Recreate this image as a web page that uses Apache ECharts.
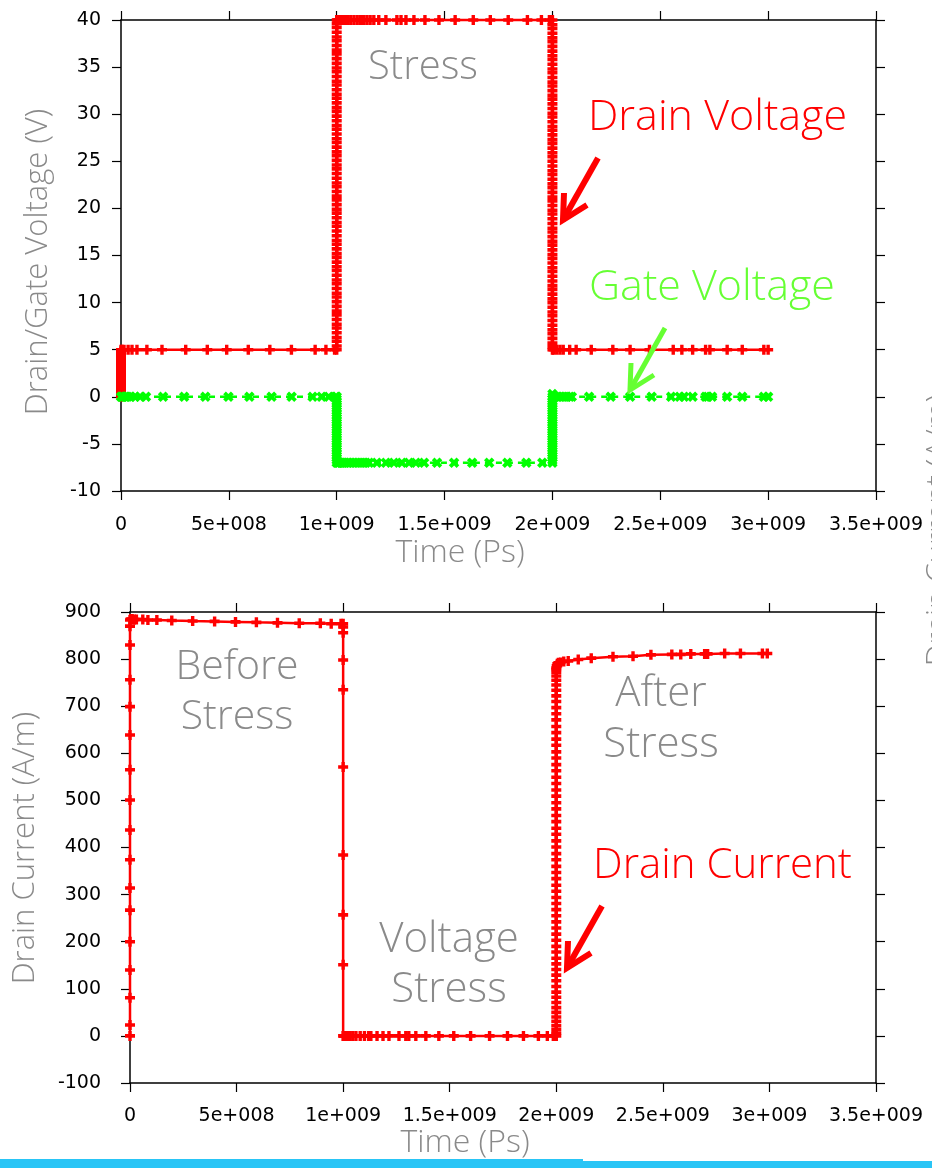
<!DOCTYPE html>
<html><head><meta charset="utf-8">
<script src="https://cdn.jsdelivr.net/npm/echarts@6/dist/echarts.min.js"></script>
<style>html,body{margin:0;padding:0;background:#fff}#c{width:932px;height:1168px}</style>
</head><body><div id="c"></div>
<script>
// ---------- DATA (time in ps, voltage in V, current in A/m) ----------
const timeTicks = [0, 5e8, 1e9, 1.5e9, 2e9, 2.5e9, 3e9, 3.5e9];

// dense steps
const drainStartRamp = [0,0.25,0.5,0.8,1.05,1.3,1.55,1.8,2.05,2.3,2.55,2.8,3.05,3.3,3.55,3.8,4.05,4.3,4.55,4.8,5];
const drainRampUp = [5.4,5.9,6.3,6.8,7.3,7.7,8.2,8.7,9.1,9.6,10.1,10.6,11,11.5,12,12.4,12.9,13.4,13.8,14.3,14.8,15.2,15.7,16.2,16.6,17.1,17.6,18.1,18.5,19,19.5,19.9,20.4,20.9,21.3,21.8,22.3,22.7,23.2,23.7,24.2,24.6,25.1,25.6,26,26.5,27,27.4,27.9,28.4,28.8,29.3,29.8,30.3,30.7,31.2,31.7,32.1,32.6,33.1,33.5,34,34.5,34.9,35.4,35.9,36.4,36.8,37.3,37.8,38.2,38.7,39.2,39.6,40];
const drainRampDown = [39.5,39.1,38.6,38.1,37.7,37.2,36.7,36.2,35.8,35.3,34.8,34.4,33.9,33.4,33,32.5,32,31.6,31.1,30.6,30.1,29.7,29.2,28.7,28.3,27.8,27.3,26.9,26.4,25.9,25.5,25,24.5,24,23.6,23.1,22.6,22.2,21.7,21.2,20.8,20.3,19.8,19.4,18.9,18.4,17.9,17.5,17,16.5,16.1,15.6,15.1,14.7,14.2,13.7,13.3,12.8,12.3,11.8,11.4,10.9,10.4,10,9.5,9,8.6,8.1,7.6,7.1,6.7,6.2,5.7,5.3,5];
const gateRampDown = [-0.25,-0.5,-0.75,-1,-1.25,-1.5,-1.75,-2,-2.25,-2.5,-2.75,-3,-3.25,-3.5,-3.75,-4,-4.25,-4.5,-4.75,-5,-5.25,-5.5,-5.75,-6,-6.25,-6.5,-6.75,-7];
const gateRampUp = [-6.75,-6.5,-6.25,-6,-5.75,-5.5,-5.25,-5,-4.75,-4.5,-4.25,-4,-3.75,-3.5,-3.25,-3,-2.75,-2.5,-2.25,-2,-1.75,-1.5,-1.25,-1,-0.75,-0.5,-0.25,0,0.3];
const currentRampUp = [6,14,22,31,40,50,60,71,82,93,105,117,129,141,153,165,178,190,203,216,229,242,255,268,281,294,307,320,334,347,360,374,387,401,414,428,441,455,468,482,495,509,522,536,549,563,576,590,603,617,630,644,657,671,684,697,710,722,734,745,755,764,772,778,781];

const drainLow1 = [[0.005e9,5],[0.014e9,5],[0.033e9,5],[0.051e9,5],[0.074e9,5],[0.12e9,5],[0.19e9,5],[0.30e9,5],[0.40e9,5],
  [0.49e9,5],[0.59e9,5],[0.69e9,5],[0.79e9,5],[0.90e9,5],[0.95e9,5],[0.99e9,5],[1e9,5]];
const drainHigh = [[1.003e9,40],[1.007e9,40],[1.012e9,40],[1.02e9,40],[1.03e9,40],[1.04e9,40],[1.05e9,40],[1.065e9,40],[1.08e9,40],
  [1.095e9,40],[1.11e9,40],[1.125e9,40],[1.14e9,40],[1.155e9,40],[1.172e9,40],[1.195e9,40],[1.228e9,40],[1.279e9,40],
  [1.298e9,40],[1.321e9,40],[1.358e9,40],[1.409e9,40],[1.474e9,40],[1.549e9,40],[1.633e9,40],[1.712e9,40],[1.795e9,40],
  [1.884e9,40],[1.949e9,40],[1.986e9,40],[2e9,40]];
const drainLow2 = [[2.005e9,5],[2.02e9,5],[2.035e9,5],[2.05e9,5],[2.08e9,5],[2.11e9,5],[2.18e9,5],[2.28e9,5],[2.36e9,5],[2.45e9,5],
  [2.56e9,5],[2.60e9,5],[2.65e9,5],[2.71e9,5],[2.73e9,5],[2.81e9,5],[2.88e9,5],[2.98e9,5],[3.0e9,5]];

const gateZero1 = [[0,0],[0.005e9,0],[0.01e9,0],[0.02e9,0],[0.03e9,0],[0.045e9,0],[0.065e9,0],[0.088e9,0],[0.116e9,0],[0.195e9,0],
  [0.293e9,0],[0.391e9,0],[0.498e9,0],[0.595e9,0],[0.698e9,0],[0.791e9,0],[0.888e9,0],[0.93e9,0],[0.963e9,0],[0.995e9,0],[1e9,0]];
const gateLow = [[1.005e9,-7],[1.01e9,-7],[1.02e9,-7],[1.03e9,-7],[1.04e9,-7],[1.05e9,-7],[1.06e9,-7],[1.075e9,-7],[1.09e9,-7],
  [1.105e9,-7],[1.12e9,-7],[1.135e9,-7],[1.15e9,-7],[1.186e9,-7],[1.228e9,-7],[1.265e9,-7],[1.302e9,-7],[1.335e9,-7],
  [1.367e9,-7],[1.405e9,-7],[1.465e9,-7],[1.544e9,-7],[1.628e9,-7],[1.707e9,-7],[1.791e9,-7],[1.879e9,-7],[1.953e9,-7],[2e9,-7]];
const gateZero2 = [[2.005e9,0],[2.02e9,0],[2.035e9,0],[2.05e9,0],[2.065e9,0],[2.08e9,0],[2.09e9,0],[2.17e9,0],[2.27e9,0],[2.36e9,0],
  [2.46e9,0],[2.55e9,0],[2.59e9,0],[2.61e9,0],[2.65e9,0],[2.71e9,0],[2.72e9,0],[2.74e9,0],[2.81e9,0],[2.88e9,0],[2.98e9,0],[3.0e9,0]];

const currentStart = [0,23,81,140,200,267,314,374,437,501,565,639,699,756,830,870,883];
const currentBefore = [[0.003e9,885],[0.01e9,885],[0.02e9,884],[0.03e9,884],[0.06e9,884],[0.084e9,883],[0.126e9,883],[0.196e9,882],[0.294e9,881],
  [0.397e9,880],[0.495e9,879],[0.593e9,878],[0.692e9,877],[0.794e9,876],[0.893e9,876],[0.944e9,875],[0.99e9,875],[1e9,875]];
const currentDrop = [868,856,798,735,571,384,257,151,0];
const currentStress = [[1.002e9,0],[1.005e9,0],[1.01e9,0],[1.02e9,0],[1.03e9,0],[1.045e9,0],[1.06e9,0],[1.08e9,0],[1.1e9,0],[1.12e9,0],
  [1.13e9,0],[1.159e9,0],[1.187e9,0],[1.215e9,0],[1.262e9,0],[1.294e9,0],[1.308e9,0],[1.341e9,0],[1.388e9,0],[1.449e9,0],
  [1.519e9,0],[1.598e9,0],[1.687e9,0],[1.771e9,0],[1.846e9,0],[1.916e9,0],[1.958e9,0],[1.986e9,0],[2e9,0]];
const currentAfter = [[2.002e9,786],[2.005e9,790],[2.01e9,792],[2.02e9,793],[2.035e9,795],[2.056e9,796],[2.103e9,799],[2.164e9,802],
  [2.266e9,805],[2.36e9,806],[2.444e9,809],[2.542e9,810],[2.584e9,810],[2.631e9,811],[2.696e9,811],[2.71e9,811],
  [2.79e9,812],[2.864e9,812],[2.967e9,812],[2.99e9,812]];

// ---------- series tables built from the arrays ----------
const at = (t, vals) => vals.map(v => [t, v]);
const drainVoltage = [].concat(at(0, drainStartRamp), drainLow1, at(1e9, drainRampUp), drainHigh, at(2e9, drainRampDown), drainLow2);
const gateVoltage = [].concat(gateZero1, at(1e9, gateRampDown), gateLow, at(2e9, gateRampUp), gateZero2);
const drainCurrent = [].concat(at(0, currentStart), currentBefore, at(1e9, currentDrop), currentStress, at(2e9, currentRampUp), currentAfter);

// ---------- RENDER ----------
const RED = '#ff0000', GREEN = '#00ff00', LIGHTGREEN = '#66ff33', GRAY = '#8a8a8a';
const TXT = '"Open Sans", "Noto Sans", sans-serif';
const PLUS = 'path://M3.3,0H6.7V3.2H10V6.8H6.7V10H3.3V6.8H0V3.2H3.3Z';

function fmt(v) {
  if (v === 0) return '0';
  const e = Math.floor(Math.log10(v) + 1e-9);
  const m = +(v / Math.pow(10, e)).toFixed(3);
  return m + 'e+' + String(e).padStart(3, '0');
}
const axisLine = {show: true, onZero: false, lineStyle: {color: '#000', width: 1.5}};
const axisTick = {show: true, inside: false, length: 9, lineStyle: {color: '#000', width: 1.2}};
const labelStyle = {color: '#000', fontFamily: 'DejaVu Sans', fontSize: 19};

function xAx(g, pos, show, margin) {
  return {gridIndex: g, type: 'value', position: pos, min: timeTicks[0], max: timeTicks[timeTicks.length - 1], interval: timeTicks[1] - timeTicks[0],
    axisLine, axisTick, splitLine: {show: false},
    axisLabel: Object.assign({show: show, formatter: fmt, margin: margin}, labelStyle)};
}
function yAx(g, pos, show, min, max, interval, margin) {
  return {gridIndex: g, type: 'value', position: pos, min, max, interval,
    axisLine, axisTick, splitLine: {show: false},
    axisLabel: Object.assign({show: show, margin: margin}, labelStyle)};
}
function arrow(tip, color, w) {
  const [x, y] = tip;
  return [
    {type: 'polyline', z: 50, shape: {points: [[x + 35, y - 62], [x, y]]}, style: {stroke: color, lineWidth: w, fill: null, lineCap: 'butt'}},
    {type: 'polyline', z: 50, shape: {points: [[x + 1, y - 27], [x, y], [x + 24, y - 15]]}, style: {stroke: color, lineWidth: w, fill: null, lineJoin: 'miter'}}
  ];
}
function txt(text, x, y, color, size, opts, align) {
  return Object.assign({type: 'text', z: 40, x, y,
    style: {text, fill: color, fontSize: size, fontFamily: TXT, fontWeight: 300, align: align || 'center', verticalAlign: 'middle'}}, opts || {});
}

const chart = echarts.init(document.getElementById('c'), null, {renderer: 'canvas'});
chart.setOption({
  animation: false,
  backgroundColor: '#fff',
  grid: [
    {left: 121, right: 56, top: 20, height: 471},
    {left: 130, right: 56, top: 612, height: 471}
  ],
  xAxis: [xAx(0, 'bottom', true, 25), xAx(0, 'top', false, 8), xAx(1, 'bottom', true, 24), xAx(1, 'top', false, 8)],
  yAxis: [yAx(0, 'left', true, -10, 40, 5, 20), yAx(0, 'right', false, -10, 40, 5, 8),
          yAx(1, 'left', true, -100, 900, 100, 29), yAx(1, 'right', false, -100, 900, 100, 8)],
  series: [
    {type: 'line', name: 'Drain Voltage', xAxisIndex: 0, yAxisIndex: 0, data: drainVoltage, clip: false,
     symbol: PLUS, symbolSize: 10, showAllSymbol: true, color: RED,
     lineStyle: {color: RED, width: 2.5}, itemStyle: {color: RED}},
    {type: 'line', name: 'Gate Voltage', xAxisIndex: 0, yAxisIndex: 0, data: gateVoltage, clip: false,
     symbol: PLUS, symbolRotate: 45, symbolSize: 11, showAllSymbol: true, color: GREEN,
     lineStyle: {color: GREEN, width: 2.5, type: [6, 5]}, itemStyle: {color: GREEN}},
    {type: 'line', name: 'Drain Current', xAxisIndex: 2, yAxisIndex: 2, data: drainCurrent, clip: false,
     symbol: PLUS, symbolSize: 10, showAllSymbol: true, color: RED,
     lineStyle: {color: RED, width: 2.5}, itemStyle: {color: RED}}
  ],
  graphic: [
    txt('Stress', 423, 68, GRAY, 40),
    txt('Drain Voltage', 588, 118, RED, 43, null, 'left'),
    txt('Gate Voltage', 589, 288, LIGHTGREEN, 43, null, 'left'),
    txt('Time (Ps)', 460, 553, GRAY, 32),
    txt('Drain/Gate Voltage (V)', 38, 262, GRAY, 31, {rotation: Math.PI / 2}),
    txt('Before', 237, 667, GRAY, 41),
    txt('Stress', 237, 717, GRAY, 41),
    txt('After', 661, 694, GRAY, 42),
    txt('Stress', 661, 745, GRAY, 42),
    txt('Voltage', 449, 940, GRAY, 42),
    txt('Stress', 449, 990, GRAY, 42),
    txt('Drain Current', 593, 866, RED, 42, null, 'left'),
    txt('Drain Current (A/m)', 25, 848, GRAY, 31, {rotation: Math.PI / 2}),
    txt('Drain Current (A/m)', 939, 530, GRAY, 31, {rotation: Math.PI / 2}),
    txt('Time (Ps)', 465, 1143, GRAY, 32),
    ...arrow([563, 220], RED, 6),
    ...arrow([630, 390], LIGHTGREEN, 5),
    ...arrow([567, 968], RED, 6),
    {type: 'rect', z: 100, shape: {x: 0, y: 1159, width: 583, height: 9}, style: {fill: '#29c5f6'}},
    {type: 'rect', z: 100, shape: {x: 583, y: 1161, width: 349, height: 7}, style: {fill: '#29c5f6'}}
  ]
});
</script></body></html>
